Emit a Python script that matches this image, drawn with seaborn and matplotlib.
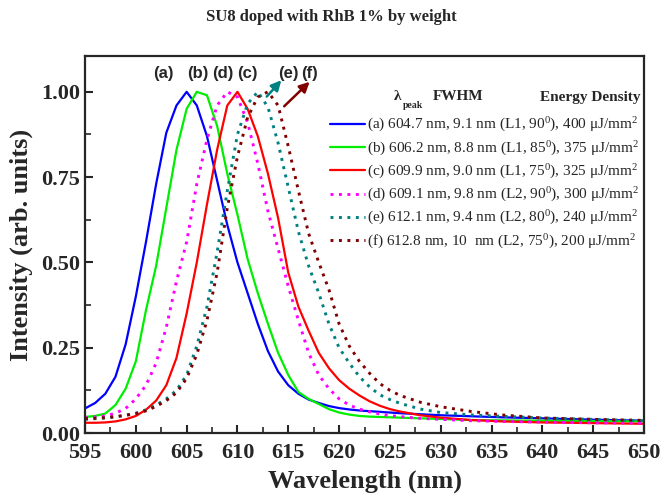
import numpy as np
import pandas as pd
import matplotlib
matplotlib.use("Agg")
import matplotlib.pyplot as plt
import seaborn as sns

# Emission spectra of SU8 doped with RhB (normalised intensity)
wavelength = [595, 596, 597, 598, 599, 600, 601, 602, 603, 604, 605, 606, 607, 608, 609,
              610, 611, 612, 613, 614, 615, 616, 617, 618, 619, 620, 621, 622, 623, 624,
              625, 626, 628, 630, 633, 636, 640, 645, 650]

int_a = [0.072, 0.088, 0.115, 0.165, 0.26, 0.40, 0.56, 0.73, 0.88, 0.96, 1.00, 0.96, 0.87,
         0.74, 0.61, 0.50, 0.41, 0.32, 0.24, 0.18, 0.14, 0.115, 0.098, 0.088, 0.079, 0.073,
         0.069, 0.066, 0.064, 0.062, 0.060, 0.058, 0.055, 0.052, 0.049, 0.046, 0.043, 0.039,
         0.036]
int_b = [0.047, 0.050, 0.057, 0.082, 0.13, 0.21, 0.36, 0.49, 0.66, 0.83, 0.95, 1.00, 0.99,
         0.90, 0.76, 0.64, 0.51, 0.41, 0.32, 0.235, 0.17, 0.12, 0.10, 0.085, 0.07, 0.060,
         0.054, 0.050, 0.048, 0.047, 0.046, 0.045, 0.043, 0.041, 0.038, 0.037, 0.036, 0.035,
         0.034]
int_c = [0.030, 0.030, 0.031, 0.034, 0.040, 0.050, 0.068, 0.095, 0.14, 0.22, 0.35, 0.50,
         0.67, 0.83, 0.96, 1.00, 0.95, 0.87, 0.76, 0.63, 0.47, 0.37, 0.30, 0.235, 0.19, 0.155,
         0.13, 0.11, 0.093, 0.08, 0.07, 0.063, 0.052, 0.045, 0.038, 0.034, 0.031, 0.029, 0.027]
int_d = [0.045, 0.047, 0.050, 0.058, 0.072, 0.10, 0.14, 0.205, 0.31, 0.445, 0.56, 0.73,
         0.86, 0.96, 1.00, 0.985, 0.91, 0.79, 0.65, 0.54, 0.43, 0.33, 0.235, 0.17, 0.13, 0.10,
         0.082, 0.07, 0.062, 0.056, 0.051, 0.048, 0.043, 0.040, 0.036, 0.034, 0.032, 0.030,
         0.029]
int_e = [0.040, 0.042, 0.044, 0.047, 0.052, 0.058, 0.068, 0.082, 0.10, 0.125, 0.17, 0.255,
         0.37, 0.53, 0.71, 0.875, 0.965, 1.00, 0.955, 0.85, 0.72, 0.59, 0.49, 0.41, 0.32, 0.25,
         0.205, 0.165, 0.135, 0.112, 0.098, 0.087, 0.070, 0.060, 0.053, 0.049, 0.044, 0.040,
         0.036]
int_f = [0.042, 0.043, 0.045, 0.048, 0.052, 0.057, 0.065, 0.078, 0.095, 0.118, 0.16, 0.23,
         0.33, 0.47, 0.66, 0.81, 0.925, 0.985, 1.00, 0.96, 0.84, 0.71, 0.585, 0.50, 0.42, 0.32,
         0.255, 0.21, 0.175, 0.145, 0.125, 0.11, 0.09, 0.077, 0.063, 0.053, 0.044, 0.040, 0.037]

series_labels = [
    r"(a) 604.7 nm, 9.1 nm (L1, 90$^0$), 400 μJ/mm$^2$",
    r"(b) 606.2 nm, 8.8 nm (L1, 85$^0$), 375 μJ/mm$^2$",
    r"(c) 609.9 nm, 9.0 nm (L1, 75$^0$), 325 μJ/mm$^2$",
    r"(d) 609.1 nm, 9.8 nm (L2, 90$^0$), 300 μJ/mm$^2$",
    r"(e) 612.1 nm, 9.4 nm (L2, 80$^0$), 240 μJ/mm$^2$",
    r"(f) 612.8 nm, 10  nm (L2, 75$^0$), 200 μJ/mm$^2$",
]
series_values = [int_a, int_b, int_c, int_d, int_e, int_f]
series_colors = ["#0000ff", "#00ee00", "#ff0000", "#ff00ff", "#008080", "#800000"]
series_dotted = [False, False, False, True, True, True]

peak_tags = ["(a)", "(b)", "(d)", "(c)", "(e)", "(f)"]
peak_tag_x = [602.7, 606.1, 608.6, 611.0, 615.0, 617.1]

sns.set_style("ticks")
plt.rcParams["font.family"] = ["Liberation Serif", "DejaVu Serif"]
plt.rcParams["mathtext.fontset"] = "custom"
plt.rcParams["mathtext.rm"] = "Liberation Serif"
plt.rcParams["mathtext.it"] = "Liberation Serif:italic"
plt.rcParams["mathtext.bf"] = "Liberation Serif:bold"

fig = plt.figure(figsize=(6.62, 4.94), dpi=100)
ax = fig.add_axes([85 / 662, 1 - 433 / 494, 559 / 662, 377 / 494])

for vals, lab, col, dotted in zip(series_values, series_labels, series_colors, series_dotted):
    df = pd.DataFrame({"Wavelength": wavelength, "Intensity": vals})
    if dotted:
        sns.lineplot(data=df, x="Wavelength", y="Intensity", ax=ax, color=col, label=lab,
                     linewidth=2.1, linestyle=(0, (1, 1.9)), dash_capstyle="butt")
    else:
        sns.lineplot(data=df, x="Wavelength", y="Intensity", ax=ax, color=col, label=lab,
                     linewidth=1.6)

ax.set_xlim(595, 650)
ax.set_ylim(0, 1.105)
ax.set_xticks(np.arange(595, 651, 5))
ax.set_xticks(np.arange(597.5, 650, 5), minor=True)
ax.set_yticks([0, 0.25, 0.5, 0.75, 1.0])
ax.set_yticks([0.125, 0.375, 0.625, 0.875], minor=True)
ax.yaxis.set_major_formatter(matplotlib.ticker.FormatStrFormatter("%.2f"))
ax.tick_params(which="major", direction="in", length=6, width=1.5, labelsize=16,
               top=False, right=False)
ax.tick_params(axis="x", which="major", pad=7)
ax.tick_params(which="minor", direction="in", length=4, width=1.2, top=False, right=False)
for lbl in ax.get_xticklabels() + ax.get_yticklabels():
    lbl.set_fontweight("bold")
for sp in ax.spines.values():
    sp.set_visible(True)
    sp.set_linewidth(1.6)

ax.set_xlabel("Wavelength (nm)", fontsize=19, fontweight="bold", labelpad=5)
ax.set_ylabel("Intensity (arb. units)", fontsize=19, fontweight="bold", labelpad=6)

fig.text(0.5, 1 - 17 / 494, "SU8 doped with RhB 1% by weight", ha="center", va="center",
         fontsize=12, fontweight="bold")

# peak tags above the curves
for tag, tx in zip(peak_tags, peak_tag_x):
    ax.text(tx, 1.055, tag, ha="center", va="center", fontsize=12, fontweight="bold",
            family="Liberation Sans")

# arrows pointing off to the shifted peaks
ax.annotate("", xy=(614.5, 1.04), xytext=(612.7, 0.98),
            arrowprops=dict(arrowstyle="-|>", color="#008080", lw=1.8, mutation_scale=15))
ax.annotate("", xy=(617.3, 1.035), xytext=(614.4, 0.952),
            arrowprops=dict(arrowstyle="-|>", color="#800000", lw=1.8, mutation_scale=15))

leg = ax.legend(loc="upper left", bbox_to_anchor=((330 - 85) / 559, (433 - 116) / 377),
                frameon=False, fontsize=11, handlelength=2.3, handletextpad=0.15,
                labelspacing=0.33, borderaxespad=0, borderpad=0)

# legend column headings
hy = (433 - 97) / 377
ax.text((398 - 85) / 559, hy, "λ", transform=ax.transAxes, ha="center", va="center",
        fontsize=11, fontweight="bold")
ax.text((403 - 85) / 559, (433 - 105) / 377, "peak", transform=ax.transAxes, ha="left",
        va="center", fontsize=7, fontweight="bold")
ax.text((458 - 85) / 559, hy, "FWHM", transform=ax.transAxes, ha="center", va="center",
        fontsize=11, fontweight="bold")
ax.text((590 - 85) / 559, hy, "Energy Density", transform=ax.transAxes, ha="center",
        va="center", fontsize=11, fontweight="bold")

fig.savefig("out.png", dpi=100)
